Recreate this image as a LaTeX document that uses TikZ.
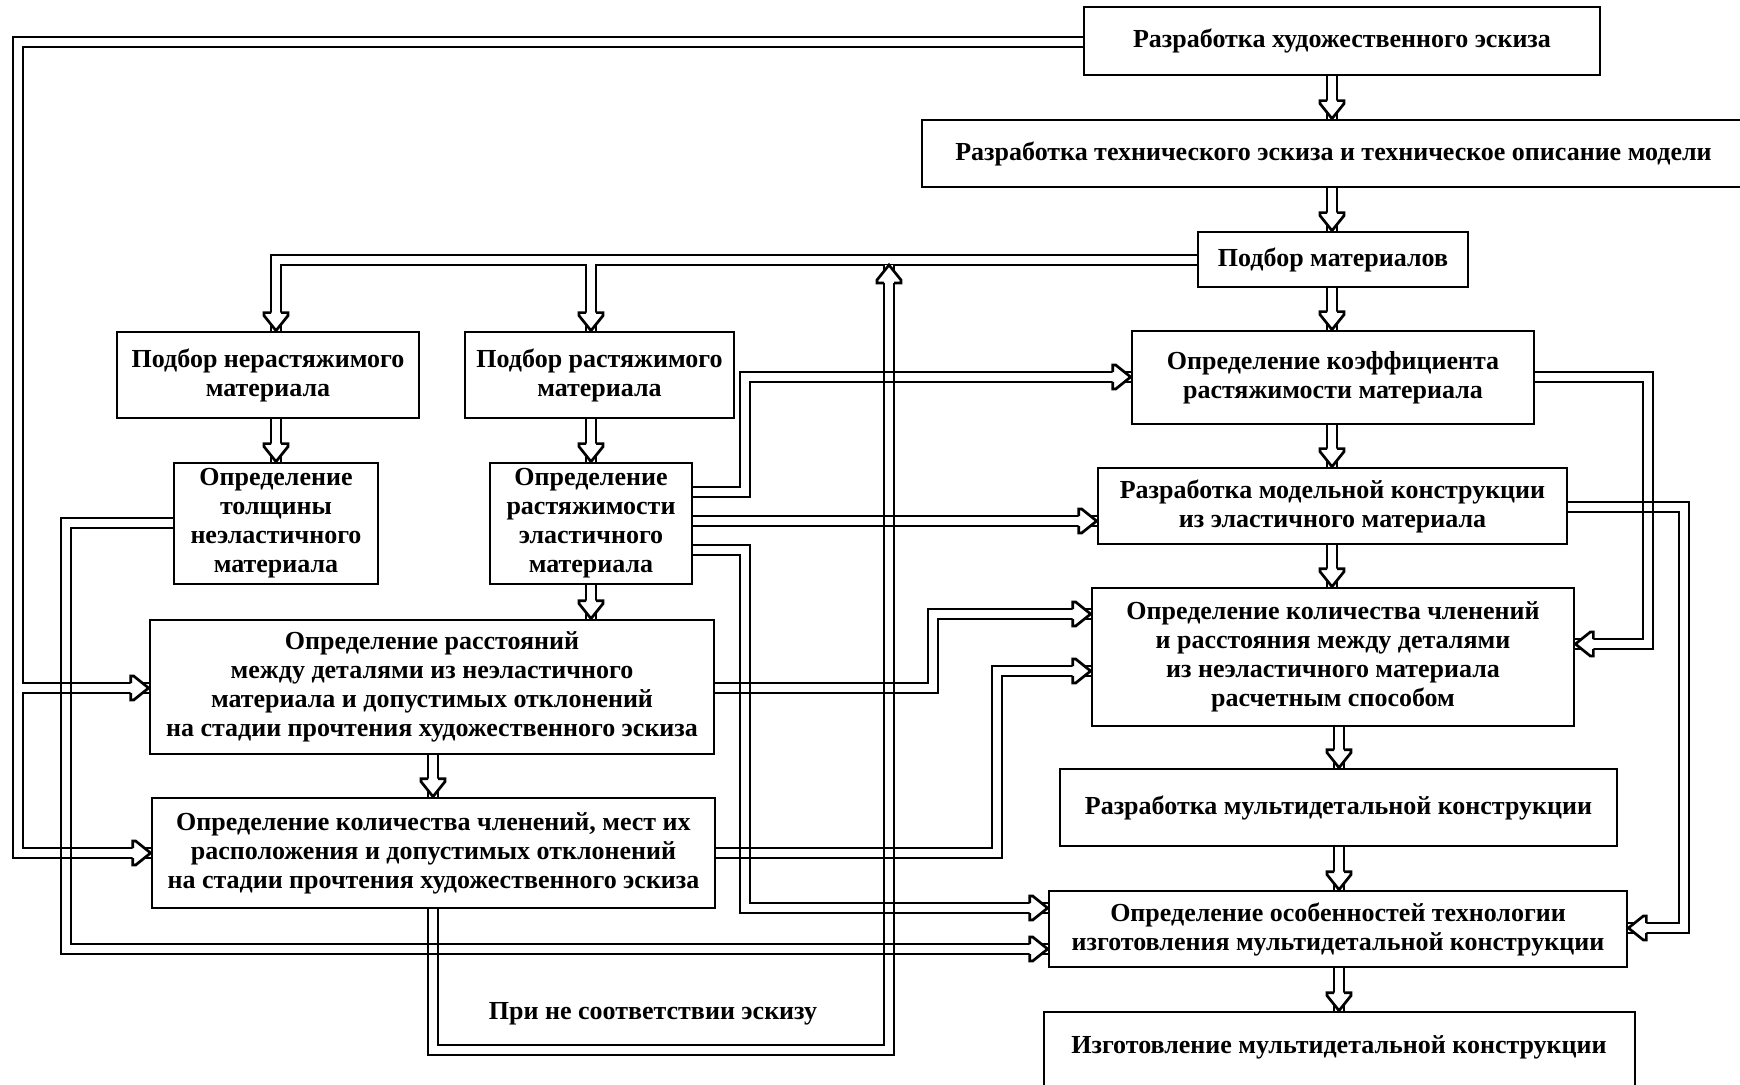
\documentclass[tikz,border=0pt]{standalone}
\usepackage{fontspec}
\setmainfont{Liberation Serif}
\usetikzlibrary{calc}
\tikzset{
  box/.style={draw, fill=white, line width=1.35pt, align=center, inner sep=0pt,
    font=\bfseries\fontsize{13}{14.5}\selectfont},
  txt/.style={align=center, inner sep=0pt, font=\bfseries\fontsize{13}{14.5}\selectfont},
  dbl/.style={line width=1.35pt, double=white, double distance=3.65pt, line join=miter},
  ahd/.pic={\path[fill=white, draw=black, line width=1.35pt, line join=miter]
    (-18,5) -- (-18,12) -- (-15,12) -- (0,0) -- (-15,-12) -- (-18,-12) -- (-18,-5);},
  xing/.pic={\draw[line width=1.35pt] (-6.35,-5) -- (6.35,-5) (-6.35,5) -- (6.35,5)
    (-5,-6.35) -- (-5,6.35) (5,-6.35) -- (5,6.35);},
}
\newcommand\bx[6]{\node[box, minimum width={(#4-#2)*0.5pt}, minimum height={(#5-#3)*0.5pt}] (#1) at ({(#2+#4)/2},{(#3+#5)/2}) {#6};}
\begin{document}
\begin{tikzpicture}[x=0.5pt, y=-0.5pt]
\useasboundingbox (0,0) rectangle (1740,1085);
\clip (0,0) rectangle (1740,1085);
\fill[white] (0,0) rectangle (1740,1085);
% invisible placeholders giving the anchors for the connectors
\begin{scope}[box/.append style={draw=none, fill=none}]
\bx{b1}{1084}{7}{1600}{75}{}
\bx{b2}{922}{120}{1745}{187}{}
\bx{b3}{1198}{232}{1468}{287}{}
\bx{b4}{1132}{331}{1534}{424}{}
\bx{b5}{117}{332}{419}{418}{}
\bx{b6}{465}{332}{734}{418}{}
\bx{b7}{174}{463}{378}{584}{}
\bx{b8}{490}{463}{692}{584}{}
\bx{b9}{150}{620}{714}{754}{}
\bx{b10}{152}{798}{715}{908}{}
\bx{b11}{1098}{468}{1567}{544}{}
\bx{b12}{1092}{588}{1574}{726}{}
\bx{b13}{1060}{769}{1617}{846}{}
\bx{b14}{1049}{891}{1627}{967}{}
\bx{b15}{1044}{1012}{1635}{1095}{}
\end{scope}
\coordinate (ret) at (889,265);
% vertical chain
\draw[dbl] (b1.south -| 1332,0) -- (b2.north -| 1332,0);
\draw[dbl] (b2.south -| 1332,0) -- (b3.north -| 1332,0);
\draw[dbl] (b3.south -| 1332,0) -- (b4.north -| 1332,0);
\draw[dbl] (b4.south -| 1332,0) -- (b11.north -| 1332,0);
\draw[dbl] (b11.south -| 1332,0) -- (b12.north -| 1332,0);
\draw[dbl] (b12.south -| 1339,0) -- (b13.north -| 1339,0);
\draw[dbl] (b13.south -| 1339,0) -- (b14.north -| 1339,0);
\draw[dbl] (b14.south -| 1339,0) -- (b15.north -| 1339,0);
\draw[dbl] (b5.south -| 276,0) -- (b7.north -| 276,0);
\draw[dbl] (b6.south -| 591,0) -- (b8.north -| 591,0);
\draw[dbl] (b8.south -| 591,0) -- (b9.north -| 591,0);
\draw[dbl] (b9.south -| 433,0) -- (b10.north -| 433,0);
% trees and loops
\draw[dbl] (b1.west |- 0,42) -- (18,42) -- (18,853) -- (b10.west |- 0,853) (18,688) -- (b9.west |- 0,688);
\draw[dbl] (b3.west |- 0,260) -- (276,260) -- (b5.north -| 276,0) (591,260) -- (b6.north -| 591,0);
\draw[dbl] (b8.east |- 0,492) -- (745,492) -- (745,377) -- (b4.west |- 0,377);
\draw[dbl] (b8.east |- 0,521) -- (b11.west |- 0,521);
\draw[dbl] (b8.east |- 0,550) -- (745,550) -- (745,908) -- (b14.west |- 0,908);
\draw[dbl] (b7.west |- 0,523) -- (66,523) -- (66,949) -- (b14.west |- 0,949);
\draw[dbl] (b9.east |- 0,688) -- (933,688) -- (933,614) -- (b12.west |- 0,614);
\draw[dbl] (b10.east |- 0,853) -- (997,853) -- (997,671) -- (b12.west |- 0,671);
\draw[dbl] (b4.east |- 0,377) -- (1648,377) -- (1648,644) -- (b12.east |- 0,644);
\draw[dbl] (b11.east |- 0,507) -- (1684,507) -- (1684,928) -- (b14.east |- 0,928);
\draw[dbl] (b10.south -| 433,0) -- (433,1050) -- (889,1050) -- (ret);
% crossings: both double lines stay visible
\foreach \p in {(889,377),(889,521),(889,688),(889,853),(889,908),(889,949),
  (66,688),(66,853),(745,688),(745,853),(1648,507),(433,949)}{\pic at \p {xing};}
% boxes on top
\bx{b1}{1084}{7}{1600}{75}{Разработка художественного эскиза}
\bx{b2}{922}{120}{1745}{187}{Разработка технического эскиза и техническое описание модели}
\bx{b3}{1198}{232}{1468}{287}{Подбор материалов}
\bx{b4}{1132}{331}{1534}{424}{Определение коэффициента\\растяжимости материала}
\bx{b5}{117}{332}{419}{418}{Подбор нерастяжимого\\материала}
\bx{b6}{465}{332}{734}{418}{Подбор растяжимого\\материала}
\bx{b7}{174}{463}{378}{584}{Определение\\толщины\\неэластичного\\материала}
\bx{b8}{490}{463}{692}{584}{Определение\\растяжимости\\эластичного\\материала}
\bx{b9}{150}{620}{714}{754}{Определение расстояний\\между деталями из неэластичного\\материала и допустимых отклонений\\на стадии прочтения художественного эскиза}
\bx{b10}{152}{798}{715}{908}{Определение количества членений, мест их\\расположения и допустимых отклонений\\на стадии прочтения художественного эскиза}
\bx{b11}{1098}{468}{1567}{544}{Разработка модельной конструкции\\из эластичного материала}
\bx{b12}{1092}{588}{1574}{726}{Определение количества членений\\и расстояния между деталями\\из неэластичного материала\\расчетным способом}
\bx{b13}{1060}{769}{1617}{846}{Разработка мультидетальной конструкции}
\bx{b14}{1049}{891}{1627}{967}{Определение особенностей технологии\\изготовления мультидетальной конструкции}
\bx{b15}{1044}{1012}{1635}{1095}{}
\node[txt] (b15t) at (1339,1047) {Изготовление мультидетальной конструкции};
\node[txt] (note) at (653,1014) {При не соответствии эскизу};
% arrowheads
\foreach \n in {b2,b3,b4,b11,b12}{\pic[rotate=-90] at (\n.north -| 1332,0) {ahd};}
\foreach \n in {b13,b14,b15}{\pic[rotate=-90] at (\n.north -| 1339,0) {ahd};}
\pic[rotate=-90] at (b5.north -| 276,0) {ahd};
\pic[rotate=-90] at (b6.north -| 591,0) {ahd};
\pic[rotate=-90] at (b7.north -| 276,0) {ahd};
\pic[rotate=-90] at (b8.north -| 591,0) {ahd};
\pic[rotate=-90] at (b9.north -| 591,0) {ahd};
\pic[rotate=-90] at (b10.north -| 433,0) {ahd};
\pic at (b9.west |- 0,688) {ahd};
\pic at (b10.west |- 0,853) {ahd};
\pic at (b4.west |- 0,377) {ahd};
\pic at (b11.west |- 0,521) {ahd};
\pic at (b14.west |- 0,908) {ahd};
\pic at (b14.west |- 0,949) {ahd};
\pic at (b12.west |- 0,614) {ahd};
\pic at (b12.west |- 0,671) {ahd};
\pic[rotate=180] at (b12.east |- 0,644) {ahd};
\pic[rotate=180] at (b14.east |- 0,928) {ahd};
\pic[rotate=90] at (ret) {ahd};
\end{tikzpicture}
\end{document}
